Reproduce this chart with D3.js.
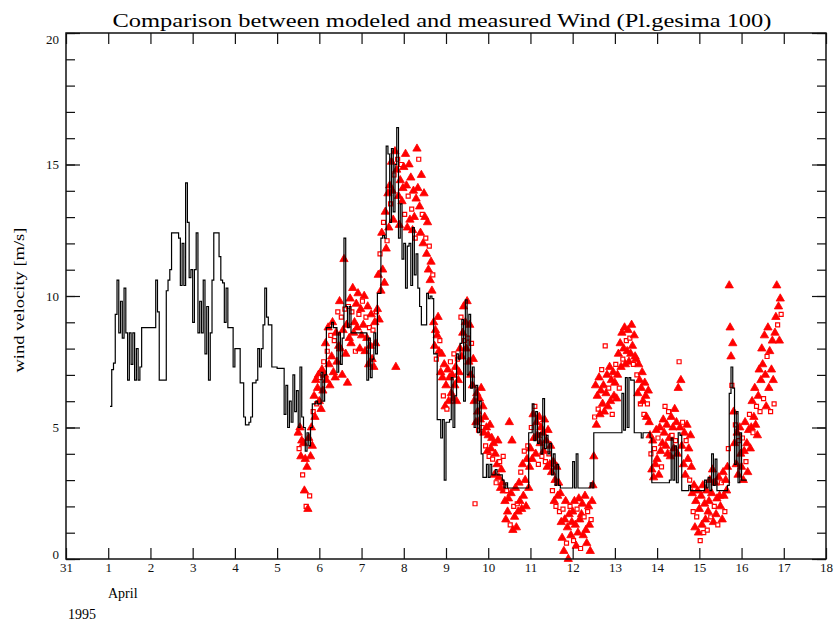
<!DOCTYPE html>
<html>
<head>
<meta charset="utf-8">
<script src="https://cdn.jsdelivr.net/npm/d3@7"></script>
<style>
    body { margin: 0; background: #fff; }
    svg { display: block; font-family: "Liberation Serif", "DejaVu Serif", serif; }
</style>
</head>
<body>
<div id="chart"></div>
<script>
// Tick labels (day 0 = 31 March 1995)
const dayLabels = ["31", "1", "2", "3", "4", "5", "6", "7", "8", "9", "10", "11", "12", "13", "14", "15", "16", "17", "18"];
const yMajor = [0, 5, 10, 15, 20];

// Modeled wind, hourly values, first one at 1 April 01:00
const modelStart = 1 + 1 / 24;
const modelStep = 1 / 24;
const modelApr1 = [5.8, 7.2, 7.45, 9.3, 10.6, 8.6, 9.8, 8.4, 10.3, 8.6, 6.8, 8.6, 7.4, 8.6, 6.8, 8.0, 6.8, 7.3, 8.8, 8.8, 8.8, 8.8, 8.8];
const modelApr2 = [8.8, 8.8, 8.8, 10.6, 9.4, 6.8, 6.8, 6.8, 6.8, 10.2, 10.6, 11.0, 12.4, 12.4, 12.4, 12.4, 12.2, 10.4, 12.0, 10.4, 14.3, 12.8, 10.7, 11.0];
const modelApr3 = [9.0, 11.0, 12.4, 8.6, 9.8, 8.6, 10.6, 7.8, 9.6, 6.8, 8.6, 10.6, 12.4, 12.4, 12.4, 11.5, 10.6, 10.5, 9.0, 10.3, 8.8, 8.8, 8.8, 7.3];
const modelApr4 = [8.0, 8.0, 8.0, 6.7, 6.7, 5.4, 5.1, 5.1, 5.2, 5.4, 6.7, 6.7, 6.8, 8.0, 7.3, 8.0, 8.9, 10.3, 9.2, 8.9, 8.9, 7.3, 7.3, 7.3];
const modelApr5 = [7.25, 7.25, 7.25, 7.25, 5.5, 6.6, 5.0, 6.0, 5.2, 7.0, 5.6, 6.4, 5.0, 7.3, 5.4, 5.0, 4.1, 4.8, 4.3, 5.0, 5.9, 5.9, 6.0, 5.9];
const modelApr6 = [5.9, 7.1, 6.0, 7.0, 8.8, 8.8, 8.8, 9.0, 8.8, 8.8, 7.1, 8.6, 7.4, 8.4, 12.2, 9.6, 8.8, 9.6, 8.6, 8.6, 8.6, 8.6, 8.6, 8.6];
const modelApr7 = [8.6, 8.6, 8.6, 6.8, 8.4, 6.9, 7.6, 8.6, 7.8, 10.1, 10.1, 12.2, 12.3, 12.2, 15.7, 15.4, 12.8, 15.6, 13.2, 15.0, 16.4, 12.2, 13.5, 11.4];
const modelApr8 = [12.0, 10.3, 11.9, 12.0, 10.4, 12.6, 10.8, 11.6, 10.3, 9.6, 8.9, 8.9, 8.9, 10.1, 9.9, 10.0, 9.9, 7.8, 7.8, 5.3, 5.3, 4.6, 5.3, 3.0];
const modelApr9 = [5.2, 5.2, 5.3, 6.9, 5.0, 6.2, 7.8, 7.6, 8.2, 9.1, 6.0, 9.85, 7.0, 9.3, 6.5, 7.3, 5.0, 6.6, 4.8, 6.0, 4.0, 3.1, 3.1, 3.6];
const modelApr10 = [3.1, 3.6, 3.2, 3.2, 3.4, 3.2, 3.2, 3.2, 3.0, 2.7, 2.9, 2.7, 2.7, 2.7, 2.7, 2.7, 2.7, 2.7, 2.7, 2.7, 2.7, 2.7, 2.7, 4.8];
const modelApr11 = [4.8, 5.9, 4.5, 5.6, 4.4, 4.8, 4.0, 6.1, 4.2, 4.7, 4.0, 4.4, 3.2, 4.0, 2.8, 3.6, 2.8, 2.7, 2.7, 2.7, 2.7, 2.7, 2.7, 2.7];
const modelApr12 = [3.7, 2.7, 4.0, 2.7, 2.7, 2.7, 2.7, 2.7, 2.7, 2.7, 2.9, 2.7, 4.8, 4.8, 4.8, 4.8, 4.8, 4.8, 4.8, 4.8, 4.8, 4.8, 4.8, 4.8];
const modelApr13 = [4.8, 4.8, 4.8, 4.8, 6.3, 4.9, 6.9, 5.0, 6.9, 6.8, 6.8, 4.8, 4.8, 4.8, 4.8, 4.6, 4.8, 4.8, 4.8, 4.8, 4.6, 2.9, 2.9, 2.9];
const modelApr14 = [2.9, 2.9, 2.9, 2.9, 2.9, 2.9, 2.9, 3.0, 4.6, 3.0, 4.3, 2.9, 4.8, 4.7, 2.6, 2.6, 2.6, 2.6, 2.8, 2.6, 2.6, 2.6, 2.6, 2.6];
const modelApr15 = [2.6, 2.6, 2.6, 3.0, 2.7, 3.1, 2.6, 4.0, 2.8, 3.8, 2.6, 2.6, 2.6, 2.6, 2.6, 2.6, 2.8, 6.3, 7.3, 6.5, 3.6, 5.6, 2.9, 4.8];
const modelApr16 = [3.0, 3.0, 3.0];

// Measured wind, half-hourly values, first one at 5 April 12:00
const measStart = 5.5;
const measStep = 1 / 48;
const meas05b = [4.8, 4.2, 5.0, 3.9, 4.5, 3.2, 4.4, 2.6, 3.8, 2.0, 3.5, 1.9, 4.6, 2.4, 3.9, 5.0, 4.3, 5.6, 6.2, 5.4, 6.8, 5.9, 6.5, 7.0];
const meas06a = [6.0, 6.9, 5.7, 7.2, 6.4, 7.5, 7.0, 8.2, 6.8, 7.9, 8.8, 7.4, 6.6, 8.5, 7.7, 9.0, 7.1, 8.3, 6.9, 8.6, 7.5, 9.4, 8.1, 9.8];
const meas06b = [8.0, 9.2, 7.0, 8.7, 11.4, 9.5, 7.8, 8.9, 6.7, 9.6, 8.4, 9.9, 8.2, 9.4, 10.3, 8.6, 9.0, 7.9, 9.7, 8.8, 10.1, 9.3, 8.0, 9.5];
const meas07a = [8.5, 9.8, 8.9, 10.0, 7.9, 9.2, 8.4, 9.6, 7.4, 8.8, 8.1, 9.3, 7.6, 8.7, 7.3, 9.0, 8.2, 9.4, 9.5, 10.8, 9.1, 11.6, 10.2, 12.4];
const meas07b = [11.0, 12.8, 10.5, 13.2, 11.8, 12.1, 13.9, 12.6, 14.2, 13.5, 15.1, 14.0, 12.9, 14.6, 15.5, 7.3, 14.8, 15.2, 13.8, 12.7, 14.4, 15.0, 13.6, 14.1];
const meas08a = [14.9, 13.1, 15.4, 14.2, 12.6, 13.8, 15.0, 12.9, 14.5, 13.3, 12.5, 14.0, 13.0, 12.2, 13.7, 15.6, 14.1, 15.2, 13.4, 12.4, 14.6, 13.1, 12.0, 13.9];
const meas08b = [13.0, 12.2, 11.6, 12.8, 11.0, 11.9, 10.6, 11.3, 10.2, 10.8, 9.0, 8.1, 8.7, 7.6, 8.5, 9.2, 7.9, 8.3, 7.1, 7.8, 6.9, 6.2, 7.4, 5.8];
const meas09a = [6.6, 5.7, 7.2, 6.0, 6.9, 7.5, 6.3, 7.0, 6.1, 7.8, 6.6, 7.3, 6.0, 7.6, 6.8, 7.1, 8.0, 9.2, 7.7, 8.6, 9.6, 8.3, 9.0, 8.0];
const meas09b = [9.8, 8.4, 7.5, 8.9, 7.0, 8.2, 6.6, 7.6, 6.0, 2.1, 5.2, 6.3, 5.6, 4.9, 6.1, 5.3, 6.5, 5.0, 5.8, 4.8, 5.4, 4.3, 5.0, 4.1];
const meas10a = [4.7, 3.9, 5.1, 4.2, 4.6, 3.8, 4.4, 3.2, 4.0, 2.9, 3.6, 4.5, 3.1, 3.7, 2.7, 3.4, 2.9, 3.9, 2.6, 2.2, 1.5, 2.6, 1.8, 2.3];
const meas10b = [5.2, 1.3, 2.5, 4.5, 1.1, 2.0, 1.6, 2.7, 1.2, 2.1, 1.8, 2.9, 2.2, 3.3, 1.9, 3.6, 2.4, 4.1, 3.0, 2.0, 3.8, 4.3, 2.7, 3.5];
const meas11a = [4.2, 5.0, 3.8, 5.5, 4.6, 5.8, 4.0, 5.2, 4.7, 3.6, 5.4, 4.4, 5.0, 3.9, 4.8, 4.1, 5.3, 3.7, 4.5, 3.5, 4.9, 4.0, 3.6, 4.3];
const meas11b = [3.3, 2.6, 3.7, 2.2, 3.0, 2.0, 3.5, 2.4, 2.9, 1.8, 2.5, 1.4, 0.8, 1.9, 0.3, 1.5, 2.2, 0.6, 1.2, 0.0, 1.7, 2.0, 0.9, 1.4];
const meas12a = [1.8, 0.7, 2.2, 1.3, 0.5, 1.9, 1.0, 2.3, 1.5, 0.4, 1.7, 2.1, 0.9, 1.6, 2.4, 1.1, 0.6, 1.8, 2.0, 1.3, 0.3, 1.5, 2.2, 2.8];
const meas12b = [3.9, 5.4, 6.6, 5.1, 6.2, 5.7, 6.9, 5.5, 6.4, 7.2, 5.9, 6.6, 5.6, 8.1, 6.3, 7.0, 5.8, 6.5, 7.3, 6.0, 6.8, 5.5, 7.1, 6.2];
const meas13a = [6.7, 7.4, 6.1, 7.0, 7.8, 6.5, 8.2, 7.3, 8.6, 7.6, 8.0, 8.8, 7.4, 8.3, 7.9, 8.7, 7.5, 8.4, 7.8, 8.9, 8.1, 7.4, 8.5, 7.7];
const meas13b = [7.6, 7.0, 6.3, 7.4, 6.8, 5.9, 6.5, 7.1, 6.0, 5.5, 6.7, 6.2, 5.4, 5.9, 6.4, 5.2, 4.7, 4.0, 3.4, 4.5, 3.1, 4.2, 3.6, 4.9];
const meas14a = [3.8, 4.6, 3.2, 5.0, 4.1, 3.5, 4.4, 5.3, 4.8, 5.8, 4.3, 5.1, 4.0, 5.6, 4.6, 3.9, 5.4, 4.7, 5.0, 4.2, 5.7, 4.5, 5.2, 4.0];
const meas14b = [6.5, 7.5, 5.0, 6.8, 4.3, 5.2, 3.6, 4.8, 3.2, 4.5, 5.1, 3.8, 4.2, 3.0, 4.7, 3.5, 2.5, 1.8, 2.8, 1.2, 2.2, 1.6, 2.6, 1.0];
const meas15a = [1.9, 0.7, 2.4, 1.3, 2.8, 1.0, 2.1, 1.5, 2.6, 1.1, 1.8, 2.2, 3.0, 1.6, 2.5, 3.4, 1.4, 2.0, 2.9, 1.7, 2.3, 1.3, 3.1, 2.4];
const meas15b = [2.0, 2.9, 1.5, 3.3, 2.4, 1.8, 3.0, 2.6, 3.5, 4.2, 10.4, 8.8, 7.7, 6.6, 8.2, 5.6, 4.4, 5.1, 3.6, 4.8, 3.2, 4.5, 5.0, 4.0];
const meas16a = [3.5, 4.6, 3.0, 4.1, 5.2, 3.7, 4.4, 3.3, 4.9, 5.5, 4.2, 5.0, 6.0, 4.8, 5.4, 6.5, 5.1, 5.8, 4.7, 6.2, 7.2, 5.6, 6.8, 8.0];
const meas16b = [7.4, 6.1, 8.5, 7.0, 5.8, 7.7, 8.8, 6.5, 7.9, 5.6, 7.2, 8.3, 6.8, 5.9, 8.6, 9.2, 10.4, 8.9, 9.6, 8.3, 9.9, 9.3];

const modeled = [modelApr1, modelApr2, modelApr3, modelApr4, modelApr5, modelApr6, modelApr7, modelApr8,
    modelApr9, modelApr10, modelApr11, modelApr12, modelApr13, modelApr14, modelApr15, modelApr16].flat();
const measured = [meas05b, meas06a, meas06b, meas07a, meas07b, meas08a, meas08b, meas09a, meas09b, meas10a, meas10b,
    meas11a, meas11b, meas12a, meas12b, meas13a, meas13b, meas14a, meas14b, meas15a, meas15b, meas16a, meas16b].flat();

// Layout
const W = 834, H = 628;
const margin = { top: 33, right: 8, bottom: 69, left: 66 };

const svg = d3.select("#chart")
    .append("svg")
    .attr("width", W)
    .attr("height", H);

const x = d3.scaleLinear().domain([0, 18]).range([margin.left, W - margin.right]);
const y = d3.scaleLinear().domain([0, 20]).range([H - margin.bottom, margin.top]);

// Title
svg.append("text")
    .attr("x", 442)
    .attr("y", 27)
    .attr("text-anchor", "middle")
    .attr("textLength", 659)
    .attr("lengthAdjust", "spacingAndGlyphs")
    .style("font-size", "18px")
    .text("Comparison between modeled and measured Wind  (Pl.gesima 100)");

// Measured points: filled triangles, every 4th as an open square
const measPts = measured.map((v, i) => ({ t: measStart + i * measStep, v: v, open: i % 4 === 1 }));
const tri = d3.symbol().type(d3.symbolTriangle).size(30);
const sq = d3.symbol().type(d3.symbolSquare).size(16);

svg.append("g")
    .selectAll("path")
    .data(measPts)
    .join("path")
    .attr("transform", d => `translate(${x(d.t)},${y(d.v)})`)
    .attr("d", d => d.open ? sq() : tri())
    .attr("fill", d => d.open ? "white" : "red")
    .attr("stroke", "red")
    .attr("stroke-width", d => d.open ? 1.2 : 0.8);

// Modeled line (step), drawn on top
const modelPts = modeled.map((v, i) => [modelStart + i * modelStep, v]);
modelPts.push([modelStart + modeled.length * modelStep, modeled[modeled.length - 1]]);

const line = d3.line()
    .x(d => x(d[0]))
    .y(d => y(d[1]))
    .curve(d3.curveStepAfter);

svg.append("path")
    .datum(modelPts)
    .attr("d", line)
    .attr("fill", "none")
    .attr("stroke", "black")
    .attr("stroke-width", 1.2);

// Axes
const axisStyle = g => {
    g.select(".domain").remove();
    g.selectAll(".tick line").attr("stroke", "#111").attr("stroke-width", 1.2);
    g.selectAll(".tick text").style("font-size", "13px").attr("fill", "#111")
        .style("font-family", "'Liberation Serif', serif");
};

// minor y ticks, left and right
svg.append("g")
    .attr("transform", `translate(${margin.left},0)`)
    .call(d3.axisLeft(y).tickValues(d3.range(0, 21)).tickSize(-9).tickFormat(""))
    .call(axisStyle);
svg.append("g")
    .attr("transform", `translate(${W - margin.right},0)`)
    .call(d3.axisRight(y).tickValues(d3.range(0, 21)).tickSize(-9).tickFormat(""))
    .call(axisStyle);

// major y ticks
svg.append("g")
    .attr("transform", `translate(${margin.left},0)`)
    .call(d3.axisLeft(y).tickValues(yMajor).tickSize(-14).tickPadding(7).tickFormat(d3.format("d")))
    .call(axisStyle)
    .call(g => g.selectAll(".tick text").attr("y", d => d === 20 ? 6 : d === 0 ? -5 : 0));
svg.append("g")
    .attr("transform", `translate(${W - margin.right},0)`)
    .call(d3.axisRight(y).tickValues(yMajor).tickSize(-14).tickFormat(""))
    .call(axisStyle);

// x ticks, bottom and top
svg.append("g")
    .attr("transform", `translate(0,${H - margin.bottom})`)
    .call(d3.axisBottom(x).tickValues(d3.range(0, 19)).tickSize(-11).tickPadding(4).tickFormat(d => dayLabels[d]))
    .call(axisStyle);
svg.append("g")
    .attr("transform", `translate(0,${margin.top})`)
    .call(d3.axisTop(x).tickValues(d3.range(0, 19)).tickSize(-11).tickFormat(""))
    .call(axisStyle);

// Frame
svg.append("rect")
    .attr("x", margin.left)
    .attr("y", margin.top)
    .attr("width", W - margin.left - margin.right)
    .attr("height", H - margin.top - margin.bottom)
    .attr("fill", "none")
    .attr("stroke", "#111")
    .attr("stroke-width", 1.5);

// Month / year
svg.append("text")
    .attr("x", 108)
    .attr("y", 598)
    .style("font-size", "14px")
    .text("April");
svg.append("text")
    .attr("x", 68)
    .attr("y", 619)
    .style("font-size", "14px")
    .text("1995");

// Y axis title
svg.append("text")
    .attr("transform", `translate(24,${(margin.top + H - margin.bottom) / 2 + 4}) rotate(-90)`)
    .attr("text-anchor", "middle")
    .attr("textLength", 145)
    .attr("lengthAdjust", "spacingAndGlyphs")
    .style("font-size", "14px")
    .text("wind velocity [m/s]");
</script>
</body>
</html>
